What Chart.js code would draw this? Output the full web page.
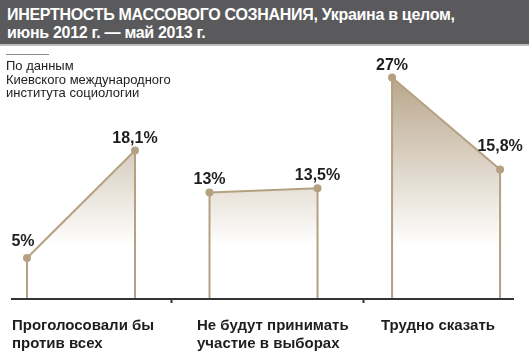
<!DOCTYPE html>
<html lang="ru">
<head>
<meta charset="utf-8">
<script src="https://cdn.jsdelivr.net/npm/chart.js@4"></script>
<style>
  html, body { margin: 0; padding: 0; background: #fff; }
  body { width: 529px; height: 351px; position: relative; overflow: hidden;
         font-family: Arial, "Liberation Sans", sans-serif; color: #1e1e1e; }
  #chart { position: absolute; left: 0; top: 0; }
  .title { position: absolute; left: 0; top: 0; width: 529px; height: 46px;
           background: #5a5a5c; border-bottom: 2px solid #bdbdbd; color: #fff;
           font-weight: bold; font-size: 16px; letter-spacing: -0.3px; line-height: 18px;
           box-sizing: border-box; padding: 6px 0 0 7px; }
  .rule { position: absolute; left: 6px; top: 54px; width: 43px; height: 1px; background: #8a8a8a; }
  .source { position: absolute; left: 6px; top: 59px; font-size: 13px; line-height: 13.5px; color: #222; }
  .cat { position: absolute; top: 316px; font-weight: bold; font-size: 15px; line-height: 18px; color: #1e1e1e; }
</style>
</head>
<body>
<canvas id="chart" width="529" height="351"></canvas>
<div class="title">ИНЕРТНОСТЬ МАССОВОГО СОЗНАНИЯ, Украина в целом,<br>июнь 2012 г. — май 2013 г.</div>
<div class="rule"></div>
<div class="source">По данным<br>Киевского международного<br>института социологии</div>
<div class="cat" style="left:12px">Проголосовали бы<br>против всех</div>
<div class="cat" style="left:197px">Не будут принимать<br>участие в выборах</div>
<div class="cat" style="left:381px">Трудно сказать</div>
<script>
// ---------- данные ----------
const categories = ["Проголосовали бы против всех", "Не будут принимать участие в выборах", "Трудно сказать"];
const periods = ["июнь 2012", "май 2013"];
const june2012 = [5, 13, 27];
const may2013 = [18.1, 13.5, 15.8];
const valueLabels = [["5%", "18,1%"], ["13%", "13,5%"], ["27%", "15,8%"]];

// ---------- раскладка ----------
const GROUP_STEP = 1.69;          // шаг между группами (ширина группы = 1)
const dividerPos = [1.333, 3.11]; // засечки на оси
// сдвиг подписей (dx, dy) для каждой точки
const labelNudge = [[[-4, -4], [0, 0]], [[0, 0], [0, 0]], [[0, 0], [0, -10]]];
const TAN = "#b4a182";

// градиент заливки: от тёмно-бежевого у вершины к белому
function fillGradient(ctx) {
  const { chart } = ctx;
  const area = chart.chartArea;
  const y = chart.scales.y;
  if (!area || !y) return "rgba(184,166,139,0.4)";
  const top = y.getPixelForValue(27);
  const bottom = y.getPixelForValue(6.5);
  if (!isFinite(top) || !isFinite(bottom)) return "rgba(184,166,139,0.4)";
  const g = chart.ctx.createLinearGradient(0, top, 0, bottom);
  g.addColorStop(0, "#b8a68b");
  g.addColorStop(1, "#ffffff");
  return g;
}

const datasets = categories.map((c, i) => ({
  label: c,
  data: [
    { x: i * GROUP_STEP, y: june2012[i] },
    { x: i * GROUP_STEP + 1, y: may2013[i] },
  ],
  borderColor: TAN,
  borderWidth: 2,
  pointRadius: 4,
  pointBackgroundColor: TAN,
  pointBorderWidth: 0,
  tension: 0,
  fill: "origin",
  backgroundColor: fillGradient,
}));

// опускающиеся линии, ось и подписи значений
const decor = {
  id: "decor",
  afterDatasetsDraw(chart) {
    const { ctx, scales: { x, y }, chartArea } = chart;
    const y0 = y.getPixelForValue(0);
    ctx.save();

    ctx.strokeStyle = TAN;
    ctx.lineWidth = 2;
    chart.data.datasets.forEach((ds) => {
      ds.data.forEach((p) => {
        const px = x.getPixelForValue(p.x);
        ctx.beginPath();
        ctx.moveTo(px, y.getPixelForValue(p.y));
        ctx.lineTo(px, y0);
        ctx.stroke();
      });
    });

    ctx.strokeStyle = "#333";
    ctx.lineWidth = 2;
    ctx.beginPath();
    ctx.moveTo(chartArea.left, y0);
    ctx.lineTo(chartArea.right, y0);
    dividerPos.forEach((d) => {
      const px = Math.round(x.getPixelForValue(d)) + 0.5;
      ctx.moveTo(px, y0);
      ctx.lineTo(px, y0 + 4);
    });
    ctx.stroke();

    ctx.fillStyle = "#1e1e1e";
    ctx.font = "bold 16px Arial, 'Liberation Sans', sans-serif";
    ctx.textAlign = "center";
    ctx.textBaseline = "alphabetic";
    chart.data.datasets.forEach((ds, i) => {
      ds.data.forEach((p, j) => {
        const [dx, dy] = labelNudge[i][j];
        ctx.fillText(valueLabels[i][j], x.getPixelForValue(p.x) + dx, y.getPixelForValue(p.y) - 8 + dy);
      });
    });
    ctx.restore();
  },
};

new Chart(document.getElementById("chart"), {
  type: "line",
  data: { datasets },
  options: {
    responsive: false,
    animation: false,
    layout: { padding: { left: 11, right: 15, top: 53, bottom: 52 } },
    plugins: { legend: { display: false }, tooltip: { enabled: false } },
    scales: {
      x: { type: "linear", min: -0.148, max: 4.509, display: false },
      y: { min: 0, max: 30, display: false },
    },
  },
  plugins: [decor],
});
</script>
</body>
</html>
